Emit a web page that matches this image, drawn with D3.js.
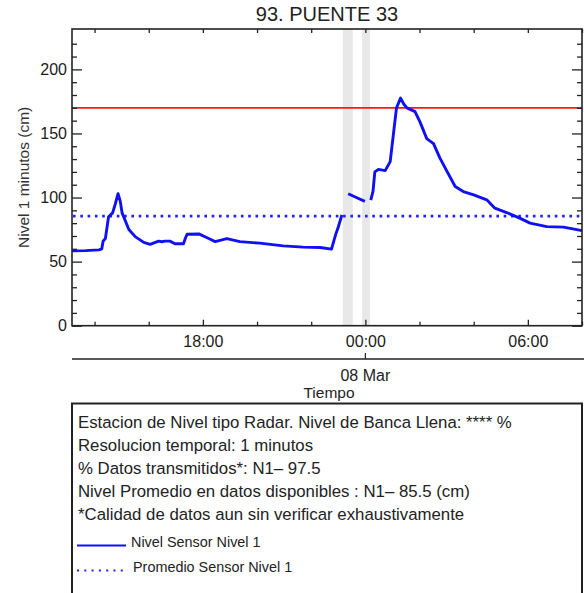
<!DOCTYPE html>
<html lang="es">
<head>
<meta charset="utf-8">
<title>93. PUENTE 33</title>
<script src="https://d3js.org/d3.v7.min.js"></script>
<style>
  body { margin: 0; background: #fff; }
  text { font-family: "Liberation Sans", Arial, sans-serif; fill: #222; }
</style>
</head>
<body>
<script>
// serie de nivel (null = sin datos)
var levelTimes = [
  "2024-03-07 13:10","2024-03-07 13:40","2024-03-07 14:10","2024-03-07 14:16","2024-03-07 14:19","2024-03-07 14:24",
  "2024-03-07 14:31","2024-03-07 14:40","2024-03-07 14:46","2024-03-07 14:52","2024-03-07 14:57","2024-03-07 15:01",
  "2024-03-07 15:16","2024-03-07 15:30","2024-03-07 15:49","2024-03-07 16:03","2024-03-07 16:22","2024-03-07 16:29",
  "2024-03-07 16:36","2024-03-07 16:47","2024-03-07 16:58","2024-03-07 17:17","2024-03-07 17:21","2024-03-07 17:25",
  "2024-03-07 17:51","2024-03-07 18:13","2024-03-07 18:27","2024-03-07 18:53","2024-03-07 19:22","2024-03-07 20:06",
  "2024-03-07 20:58","2024-03-07 21:42","2024-03-07 22:20","2024-03-07 22:45","2024-03-07 22:50","2024-03-07 22:55",
  "2024-03-07 23:00","2024-03-07 23:08",
  "2024-03-07 23:15",
  "2024-03-07 23:22","2024-03-07 23:40","2024-03-07 23:59",
  "2024-03-08 00:05",
  "2024-03-08 00:12","2024-03-08 00:17","2024-03-08 00:21","2024-03-08 00:29","2024-03-08 00:44","2024-03-08 00:55",
  "2024-03-08 01:02","2024-03-08 01:09","2024-03-08 01:18","2024-03-08 01:25","2024-03-08 01:32","2024-03-08 01:50",
  "2024-03-08 02:01","2024-03-08 02:16","2024-03-08 02:31","2024-03-08 02:45","2024-03-08 03:00","2024-03-08 03:19",
  "2024-03-08 03:37","2024-03-08 04:00","2024-03-08 04:29","2024-03-08 04:47","2024-03-08 05:13","2024-03-08 05:42",
  "2024-03-08 06:05","2024-03-08 06:42","2024-03-08 07:19","2024-03-08 08:00"
];
var levelValues = [
  58.4, 58.6, 59.2, 60, 66, 68,
  85, 88, 95, 103, 97, 88,
  75, 69.5, 65, 63.5, 66, 65.5,
  66, 66, 64, 64, 68, 71.4,
  71.6, 68, 65.6, 68, 65.6, 64.4,
  62.3, 61.3, 61, 59.7, 66, 72,
  77, 86.5,
  null,
  103, 100, 97,
  null,
  98, 105, 120, 122, 121, 128,
  149, 170, 177.6, 173, 170, 167,
  159, 146, 142, 131, 121, 108.6,
  104.7, 102, 98.2, 91.7, 88.3, 83.9,
  80, 77.3, 76.9, 74.2
];

// franjas sin datos
var gapStart = ["2024-03-07 23:10", "2024-03-07 23:53"];
var gapEnd = ["2024-03-07 23:32", "2024-03-08 00:10"];

var bankFull = 170;     // nivel de banca llena (linea roja)
var meanLevel = 85.5;   // promedio sensor nivel 1

var xStart = "2024-03-07 13:10";
var xEnd = "2024-03-08 08:00";
var yMax = 231.5;

var infoLines = [
  "Estacion de Nivel tipo Radar. Nivel de Banca Llena: **** %",
  "Resolucion temporal: 1 minutos",
  "% Datos transmitidos*: N1\u2013 97.5",
  "Nivel Promedio en datos disponibles : N1\u2013 85.5 (cm)",
  "*Calidad de datos aun sin verificar exhaustivamente"
];
var legendLabels = ["Nivel Sensor Nivel 1", "Promedio Sensor Nivel 1"];

var w = 584, h = 593;
var pLeft = 72, pRight = 582, pTop = 29, pBottom = 325.7;

var parse = d3.timeParse("%Y-%m-%d %H:%M");
var fmt = d3.timeFormat("%H:%M");

var data = levelTimes.map(function(t, i) { return [parse(t), levelValues[i]]; });

var xScale = d3.scaleTime()
    .domain([parse(xStart), parse(xEnd)])
    .range([pLeft, pRight]);

var yScale = d3.scaleLinear()
    .domain([0, yMax])
    .range([pBottom, pTop]);

var svg = d3.select("body").append("svg")
    .attr("width", w)
    .attr("height", h);

// title
svg.append("text")
    .attr("x", (pLeft + pRight) / 2)
    .attr("y", 21)
    .attr("text-anchor", "middle")
    .style("font-size", "20px")
    .text("93. PUENTE 33");

// gray gap bands
svg.selectAll("rect.gap")
    .data(gapStart)
    .enter()
    .append("rect")
    .attr("class", "gap")
    .attr("x", function(d) { return xScale(parse(d)); })
    .attr("width", function(d, i) { return xScale(parse(gapEnd[i])) - xScale(parse(d)); })
    .attr("y", pTop)
    .attr("height", pBottom - pTop)
    .style("fill", "#e8e8e8");

// bank full line
svg.append("line")
    .attr("x1", pLeft).attr("x2", pRight)
    .attr("y1", yScale(bankFull)).attr("y2", yScale(bankFull))
    .style("stroke", "#ff1a10")
    .style("stroke-width", 1.8);

// mean line (dotted)
svg.append("line")
    .attr("x1", pLeft + 1).attr("x2", pRight)
    .attr("y1", yScale(meanLevel)).attr("y2", yScale(meanLevel))
    .style("stroke", "#2020ff")
    .style("stroke-width", 2.6)
    .style("stroke-dasharray", "2.6,4.7");

// level line
var line = d3.line()
    .defined(function(d) { return d[1] !== null; })
    .x(function(d) { return xScale(d[0]); })
    .y(function(d) { return yScale(d[1]); });

svg.append("path")
    .datum(data)
    .attr("d", line)
    .style("fill", "none")
    .style("stroke", "#1010f5")
    .style("stroke-width", 2.9)
    .style("stroke-linejoin", "round");

// axes
var hourTicks = d3.timeHour.every(2);
function isMajor(d) { return d.getHours() % 6 === 0; }

var xAxis = d3.axisBottom(xScale).ticks(hourTicks).tickSize(-4).tickPadding(10)
    .tickFormat(function(d) { return isMajor(d) ? fmt(d) : ""; });
var xTop = d3.axisTop(xScale).ticks(hourTicks).tickSize(-4).tickFormat("");

var yTicks = d3.range(0, 230, 10);
var yAxis = d3.axisLeft(yScale).tickValues(yTicks).tickSize(-5).tickPadding(5)
    .tickFormat(function(d) { return d % 50 === 0 ? d : ""; });
var yRight = d3.axisRight(yScale).tickValues(yTicks).tickSize(-5).tickFormat("");

var gx = svg.append("g").attr("transform", "translate(0," + pBottom + ")").call(xAxis);
var gxt = svg.append("g").attr("transform", "translate(0," + pTop + ")").call(xTop);
var gy = svg.append("g").attr("transform", "translate(" + pLeft + ",0)").call(yAxis);
var gyr = svg.append("g").attr("transform", "translate(" + pRight + ",0)").call(yRight);

gx.selectAll(".tick line").attr("y2", function(d) { return isMajor(d) ? -6 : -4; });
gy.selectAll(".tick line").attr("x2", function(d) { return d % 50 === 0 ? 10 : 5; });
gyr.selectAll(".tick line").attr("x2", function(d) { return d % 50 === 0 ? -10 : -5; });

[gx, gxt, gy, gyr].forEach(function(g) {
  g.select(".domain").remove();
  g.selectAll(".tick line").style("stroke", "#222").style("stroke-width", 1.3);
  g.selectAll("text").style("font-size", "16px").style("fill", "#1a1a1a")
    .style("font-family", "'Liberation Sans', Arial, sans-serif");
});

// frame
svg.append("rect")
    .attr("x", pLeft).attr("y", pTop)
    .attr("width", pRight - pLeft).attr("height", pBottom - pTop)
    .style("fill", "none")
    .style("stroke", "#222")
    .style("stroke-width", 1.6);

// y label
svg.append("text")
    .attr("transform", "translate(29," + ((pTop + pBottom) / 2) + ") rotate(-90)")
    .attr("text-anchor", "middle")
    .style("font-size", "15.5px")
    .style("fill", "#333")
    .text("Nivel 1 minutos (cm)");

// second date axis
var dayTick = parse("2024-03-08 00:00");
svg.append("line")
    .attr("x1", pLeft).attr("x2", pRight + 2)
    .attr("y1", 359).attr("y2", 359)
    .style("stroke", "#222").style("stroke-width", 1.6);
svg.append("line")
    .attr("x1", xScale(dayTick)).attr("x2", xScale(dayTick))
    .attr("y1", 353).attr("y2", 359)
    .style("stroke", "#222").style("stroke-width", 1.2);
svg.append("text")
    .attr("x", xScale(dayTick))
    .attr("y", 381)
    .attr("text-anchor", "middle")
    .style("font-size", "16px")
    .text("08 Mar");
svg.append("text")
    .attr("x", (pLeft + pRight) / 2 + 2)
    .attr("y", 398)
    .attr("text-anchor", "middle")
    .style("font-size", "15.5px")
    .text("Tiempo");

// info box
svg.append("rect")
    .attr("x", 72).attr("y", 403.5)
    .attr("width", 510).attr("height", 200)
    .style("fill", "none")
    .style("stroke", "#222")
    .style("stroke-width", 2);

svg.selectAll("text.info")
    .data(infoLines)
    .enter()
    .append("text")
    .attr("class", "info")
    .attr("x", 78)
    .attr("y", function(d, i) { return 427.5 + i * 23; })
    .style("font-size", "16.8px")
    .text(function(d) { return d; });

// legend
var legY = [545.5, 570.5];
svg.append("line")
    .attr("x1", 77).attr("x2", 126)
    .attr("y1", legY[0]).attr("y2", legY[0])
    .style("stroke", "#1010f5").style("stroke-width", 2);
svg.append("line")
    .attr("x1", 77).attr("x2", 126)
    .attr("y1", legY[1]).attr("y2", legY[1])
    .style("stroke", "#2020ff").style("stroke-width", 2)
    .style("stroke-dasharray", "2,5.3");
svg.selectAll("text.leg")
    .data(legendLabels)
    .enter()
    .append("text")
    .attr("class", "leg")
    .attr("x", function(d, i) { return i === 0 ? 131 : 133; })
    .attr("y", function(d, i) { return legY[i] + 1; })
    .style("font-size", "14.4px")
    .text(function(d) { return d; });
</script>
</body>
</html>
